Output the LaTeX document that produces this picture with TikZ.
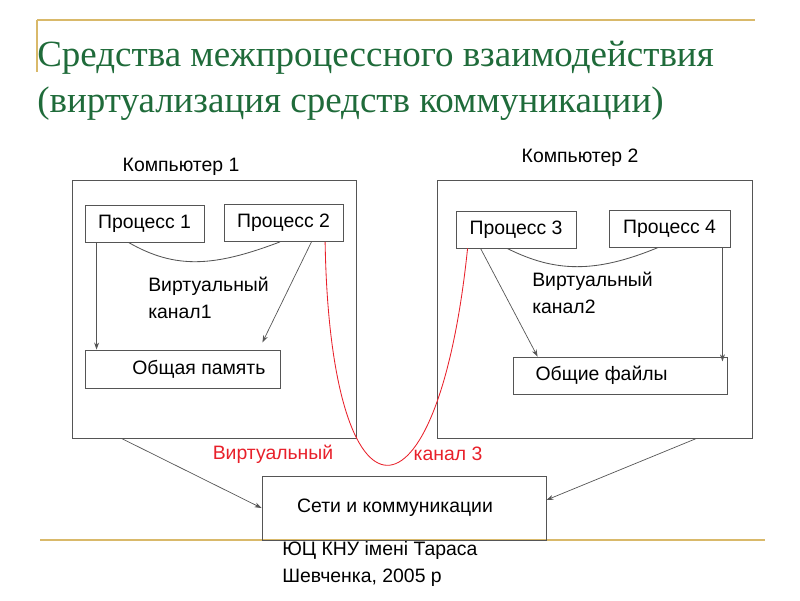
\documentclass[tikz,border=0pt]{standalone}
\usepackage{fontspec}
\setmainfont{Liberation Sans}
\newfontfamily\titlefont{Liberation Serif}
\usepackage{tikz}
\usetikzlibrary{arrows.meta,positioning,calc}
\definecolor{titlegreen}{HTML}{1F6B3A}
\definecolor{goldline}{HTML}{D9B96A}
\definecolor{linegray}{HTML}{555555}
\definecolor{chanred}{HTML}{E8202A}
\newcommand{\lblfont}{\fontsize{13.8}{19}\selectfont}

\begin{document}
\begin{tikzpicture}[
  x=0.025cm, y=-0.025cm,
  every node/.style={font=\lblfont},
  box/.style={rectangle,draw=linegray,line width=0.6pt,inner sep=0pt,align=center},
  proc/.style={box,minimum width=2.975cm,minimum height=0.925cm},
  arr/.style={-{Stealth[length=5pt,width=3.5pt]},draw=linegray,line width=0.5pt},
  chan/.style={draw=linegray,line width=0.6pt},
  vlink/.style={draw=chanred,line width=0.6pt}
]
\useasboundingbox (0,0) rectangle (800,600);
% frame lines of the slide
\draw[goldline,line width=1.4pt] (37,20) -- (755,20);
\draw[goldline,line width=1.4pt] (37,20) -- (37,72);
\draw[goldline,line width=1.4pt] (40,540) -- (765,540);

\node[anchor=north west,align=left,text=titlegreen,font=\titlefont\fontsize{26.3}{32.6}\selectfont,inner sep=0pt] (title) at (37,41)
  {Средства межпроцессного взаимодействия\\(виртуализация средств коммуникации)};

% computers
\node[box,minimum width=7.1cm,minimum height=6.45cm] (comp1) at (214,309) {};
\node[box,minimum width=7.875cm,minimum height=6.45cm] (comp2) at (594.5,309) {};
\node (lbl1) at (181,167) {Компьютер 1};
\node (lbl2) at (580,158) {Компьютер 2};

\node[proc] (p1) at (144.5,223.5) {Процесс 1};
\node[proc] (p2) at (283.5,223) {Процесс 2};
\node[proc,minimum width=3cm] (p3) at (516,229.5) {Процесс 3};
\node[proc,minimum width=3.025cm] (p4) at (669.5,228.5) {Процесс 4};

\node[box,minimum width=4.875cm,minimum height=0.95cm] (mem) at (182.5,369) {\hspace*{0.82cm}Общая память};
\node[box,minimum width=5.35cm,minimum height=0.925cm] (files) at (620,375.5) {Общие файлы\hspace*{0.92cm}};
\node[box,minimum width=7.1cm,minimum height=1.6cm] (net) at (404,508) {Сети и коммуникации\hspace*{0.45cm}};

\node[anchor=north west,align=left,inner sep=0pt] (ch1) at (148,277) {Виртуальный\\канал1};
\node[anchor=north west,align=left,inner sep=0pt] (ch2) at (532,272) {Виртуальный\\канал2};

% virtual channels inside computers
\draw[chan] ([xshift=-0.4cm]p1.south) .. controls +(47,27) and +(-66,25) .. ([xshift=-0.09cm]p2.south);
\draw[chan] ([xshift=-0.22cm]p3.south) .. controls +(48,24) and +(-63,26) .. ([xshift=-0.28cm]p4.south);

\draw[arr] ([xshift=0.3cm]p1.south west) -- ([xshift=0.3cm]p1.south west |- mem.north);
\draw[arr] ([xshift=-0.8cm]p2.south east) -- ([xshift=-0.45cm,yshift=0.18cm]mem.north east);
\draw[arr] ([xshift=0.625cm]p3.south west) -- ([xshift=0.625cm]files.north west);
\draw[arr] ([xshift=-0.2cm]p4.south east) -- ([xshift=-0.2cm,yshift=-0.12cm]p4.south east |- files.north);

\draw[arr] ([xshift=1.25cm]comp1.south west) -- (net.west);
\draw[arr] ([xshift=-1.4cm]comp2.south east) -- ([yshift=0.2cm]net.east);

% virtual channel 3
\draw[vlink] ([xshift=1.04cm]p2.south) .. controls +(5,297) and +(-30,290) .. ([xshift=0.3cm]p3.south west);
\node[text=chanred] (v3a) at (273,454) {Виртуальный};
\node[text=chanred] (v3b) at (448,454) {канал 3};

\node[anchor=north west,align=left,inner sep=0pt] (foot) at (282,541) {ЮЦ КНУ імені Тараса\\Шевченка, 2005 р};
\end{tikzpicture}
\end{document}
